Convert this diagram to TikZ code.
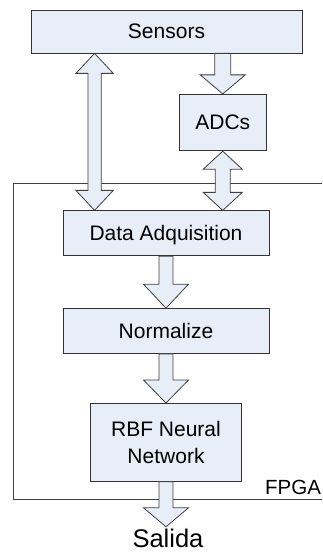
\documentclass[tikz,border=0pt]{standalone}
\usepackage{fontspec}
\setmainfont{Liberation Sans}
\usetikzlibrary{positioning,calc}

\definecolor{boxfill}{RGB}{232,238,247}
\definecolor{edgegray}{RGB}{64,64,64}

% block arrows: top point, bottom point, shaft half width, head half width, head length
\newcommand{\fatdown}[5]{%
  \path[fatarrow] let \p1=(#1), \p2=(#2) in
    (\x1-#3,\y1) -- (\x1-#3,\y2+#5) -- (\x1-#4,\y2+#5) -- (\x1,\y2)
    -- (\x1+#4,\y2+#5) -- (\x1+#3,\y2+#5) -- (\x1+#3,\y1) -- cycle;}
\newcommand{\fatboth}[5]{%
  \path[fatarrow] let \p1=(#1), \p2=(#2) in
    (\x1,\y1) -- (\x1-#4,\y1-#5) -- (\x1-#3,\y1-#5) -- (\x1-#3,\y2+#5)
    -- (\x1-#4,\y2+#5) -- (\x1,\y2) -- (\x1+#4,\y2+#5) -- (\x1+#3,\y2+#5)
    -- (\x1+#3,\y1-#5) -- (\x1+#4,\y1-#5) -- cycle;}

\begin{document}
\begin{tikzpicture}[
  x=1pt, y=1pt,
  node distance=40pt,
  stage/.style={draw=black!80, fill=boxfill, line width=0.8pt, inner sep=0pt, align=center, font=\fontsize{21}{26.6}\selectfont},
  outlabel/.style={inner sep=0pt, font=\fontsize{25.5}{30}\selectfont},
  fatarrow/.style={draw=edgegray, fill=boxfill, line width=0.8pt, line join=miter},
  >=stealth
]
\useasboundingbox (0,0) rectangle (322,553);

% FPGA frame
\draw[edgegray, line width=0.8pt] (322,370) -- (13,370) -- (13,54) -- (322,54);
\node[anchor=base west, inner sep=0pt, font=\fontsize{20.5}{24}\selectfont] (fpga) at (265,58) {FPGA};

% Blocks
\node[stage, minimum width=271pt, minimum height=43pt] (sensors) at (166.5,521.5) {Sensors};
\node[stage, minimum width=86.5pt, minimum height=56.5pt, below=40.5pt of sensors, xshift=56.25pt] (adcs) {ADCs};
\node[stage, minimum width=206pt, minimum height=45pt, text depth=0pt, below=157pt of sensors, xshift=-0.5pt] (daq) {Data Adquisition};
\node[stage, minimum width=206pt, minimum height=45pt, below=52pt of daq] (norm) {Normalize};
\node[stage, minimum width=150.5pt, minimum height=78pt, below=49pt of norm] (rbf) {RBF Neural\\Network};
\node[outlabel, below=47pt of rbf, xshift=2pt] (salida) {Salida};

% Links
\fatdown{sensors.south -| adcs.north}{adcs.north}{8pt}{22.5pt}{19pt}
\fatboth{$(sensors.south -| daq.west)+(32pt,0)$}{daq.north}{6.7pt}{18.7pt}{20pt}
\fatboth{adcs.south}{daq.north}{7.5pt}{19.5pt}{18pt}
\fatdown{daq.south}{norm.north}{7pt}{22.5pt}{24pt}
\fatdown{norm.south}{rbf.north}{7pt}{22.5pt}{23pt}
\fatdown{rbf.south}{$(salida.north)+(0,2pt)$}{7pt}{22.5pt}{19pt}

\end{tikzpicture}
\end{document}
